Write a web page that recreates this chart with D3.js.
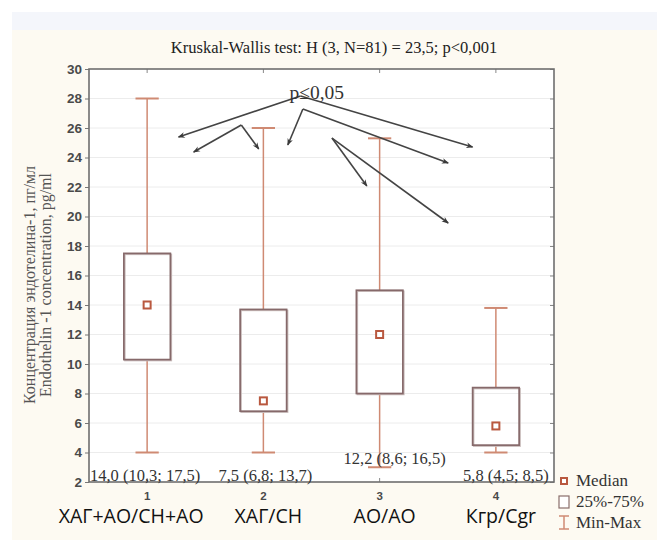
<!DOCTYPE html>
<html>
<head>
<meta charset="utf-8">
<script src="https://cdn.jsdelivr.net/npm/d3@7"></script>
<style>
  body { margin: 0; background: #fff; }
  svg { display: block; }
</style>
</head>
<body>
<svg id="chart" width="657" height="548"></svg>
<script>
// groups and box statistics
const groups = ["1", "2", "3", "4"];
const groupNames = ["ХАГ+АО/СН+АО", "ХАГ/СН", "АО/АО", "Кгр/Cgr"];
const minVals = [4.0, 4.0, 3.0, 4.0];
const q1Vals = [10.3, 6.8, 8.0, 4.5];
const medVals = [14.0, 7.5, 12.0, 5.8];
const q3Vals = [17.5, 13.7, 15.0, 8.4];
const maxVals = [28.0, 26.0, 25.3, 13.8];
const statLabels = ["14,0 (10,3; 17,5)", "7,5 (6,8; 13,7)", "12,2 (8,6; 16,5)", "5,8 (4,5; 8,5)"];
const statLabelY = [2.1, 2.1, 3.2, 2.1];
const yTicks = [2, 4, 6, 8, 10, 12, 14, 16, 18, 20, 22, 24, 26, 28, 30];

// significance arrows, [group position, value] pairs
const arrows = [
  [[2.32, 28.17], [1.27, 25.39]],
  [[2.32, 28.17], [3.80, 24.71]],
  [[1.81, 26.20], [1.40, 24.37]],
  [[1.81, 26.20], [1.96, 24.58]],
  [[2.34, 27.29], [2.21, 24.85]],
  [[2.34, 27.29], [3.59, 23.63]],
  [[2.59, 25.32], [2.89, 22.07]],
  [[2.59, 25.32], [3.59, 19.56]]
];

const svg = d3.select("#chart");
const margin = {left: 89, top: 69, right: 103, bottom: 66};
const W = 657, H = 548;
const pw = W - margin.left - margin.right;
const ph = H - margin.top - margin.bottom;
const serif = "Liberation Serif, Times New Roman, serif";

// page backgrounds
svg.append("rect").attr("x", 12).attr("y", 12).attr("width", W - 12).attr("height", 18).attr("fill", "#f4f6fb");
svg.append("rect").attr("x", 12).attr("y", 30).attr("width", W - 12).attr("height", 510).attr("fill", "#fdfaf2");

const x = d3.scaleBand().domain(groups).range([0, pw]).padding(0);
const xPos = d3.scaleLinear().domain([1, 4])
  .range([x("1") + x.bandwidth() / 2, x("4") + x.bandwidth() / 2]);
const y = d3.scaleLinear().domain([2, 30]).range([ph, 0]);

const g = svg.append("g").attr("transform", "translate(" + margin.left + "," + margin.top + ")");

g.append("rect").attr("width", pw).attr("height", ph).attr("fill", "#fff");

// grid
g.append("g").selectAll("line")
  .data(yTicks.filter(d => d > 2 && d < 30))
  .enter().append("line")
  .attr("x1", 0).attr("x2", pw)
  .attr("y1", d => y(d)).attr("y2", d => y(d))
  .attr("stroke", "#ececec").attr("stroke-width", 1);

// axes
const axisLeft = g.append("g").call(d3.axisLeft(y).tickValues(yTicks).tickSize(4).tickPadding(3));
axisLeft.select(".domain").remove();
axisLeft.selectAll("line").attr("stroke", "#777");
axisLeft.selectAll("text")
  .attr("font-family", "Liberation Sans, Arial, sans-serif")
  .attr("font-weight", "bold").attr("font-size", 13.5).attr("fill", "#4a4a4a");

const axisRight = g.append("g").attr("transform", "translate(" + pw + ",0)")
  .call(d3.axisRight(y).tickValues(yTicks).tickSize(-4).tickFormat(""));
axisRight.select(".domain").remove();
axisRight.selectAll("line").attr("stroke", "#888");

const axisTop = g.append("g").call(d3.axisTop(x).tickSize(-4).tickFormat(""));
axisTop.select(".domain").remove();
axisTop.selectAll("line").attr("stroke", "#888");

const axisBottom = g.append("g").attr("transform", "translate(0," + ph + ")")
  .call(d3.axisBottom(x).tickSize(-4).tickPadding(10));
axisBottom.select(".domain").remove();
axisBottom.selectAll("line").attr("stroke", "#888");
axisBottom.selectAll("text")
  .attr("font-family", "Liberation Sans, Arial, sans-serif")
  .attr("font-weight", "bold").attr("font-size", 11.5).attr("fill", "#4a4a4a");

g.append("rect").attr("width", pw).attr("height", ph)
  .attr("fill", "none").attr("stroke", "#6f6f6f").attr("stroke-width", 1.6);

// boxes
const data = groups.map((k, i) => ({
  key: k, min: minVals[i], q1: q1Vals[i], med: medVals[i], q3: q3Vals[i], max: maxVals[i]
}));
const bw = x.bandwidth() * 0.4;
const whisk = "#cf8a73";

const box = g.append("g").selectAll("g.box")
  .data(data).enter().append("g").attr("class", "box")
  .attr("transform", d => "translate(" + (x(d.key) + x.bandwidth() / 2) + ",0)");

box.append("line").attr("x1", 0).attr("x2", 0)
  .attr("y1", d => y(d.max)).attr("y2", d => y(d.q3))
  .attr("stroke", whisk).attr("stroke-width", 1.5);
box.append("line").attr("x1", 0).attr("x2", 0)
  .attr("y1", d => y(d.q1)).attr("y2", d => y(d.min))
  .attr("stroke", whisk).attr("stroke-width", 1.5);
box.append("line").attr("x1", -bw / 4).attr("x2", bw / 4)
  .attr("y1", d => y(d.max)).attr("y2", d => y(d.max))
  .attr("stroke", whisk).attr("stroke-width", 2);
box.append("line").attr("x1", -bw / 4).attr("x2", bw / 4)
  .attr("y1", d => y(d.min)).attr("y2", d => y(d.min))
  .attr("stroke", whisk).attr("stroke-width", 2);

// shadow then box
box.append("rect")
  .attr("x", -bw / 2 + 1).attr("y", d => y(d.q3) + 1)
  .attr("width", bw).attr("height", d => y(d.q1) - y(d.q3))
  .attr("fill", "none").attr("stroke", "#c9bcbb").attr("stroke-width", 1.5);
box.append("rect")
  .attr("x", -bw / 2).attr("y", d => y(d.q3))
  .attr("width", bw).attr("height", d => y(d.q1) - y(d.q3))
  .attr("fill", "none").attr("stroke", "#86696a").attr("stroke-width", 1.7);

box.append("rect")
  .attr("x", -3.5).attr("y", d => y(d.med) - 3.5)
  .attr("width", 7).attr("height", 7)
  .attr("fill", "#fff").attr("stroke", "#b9583f").attr("stroke-width", 2);

// stat labels inside the plot
const labelDx = [-2, 2, 15, 10];
g.append("g").selectAll("text")
  .data(statLabels).enter().append("text")
  .attr("x", (d, i) => x(groups[i]) + x.bandwidth() / 2 + labelDx[i])
  .attr("y", (d, i) => y(statLabelY[i]))
  .attr("text-anchor", "middle")
  .attr("font-family", serif)
  .attr("font-size", 16.5).attr("fill", "#333")
  .text(d => d);

// arrows
const defs = svg.append("defs");
defs.append("marker").attr("id", "ah")
  .attr("viewBox", "0 0 10 10").attr("refX", 9).attr("refY", 5)
  .attr("markerWidth", 10).attr("markerHeight", 7).attr("orient", "auto")
  .attr("markerUnits", "userSpaceOnUse")
  .append("path").attr("d", "M0,1 L10,5 L0,9 L3,5 Z").attr("fill", "#3a3a3a");

g.append("g").selectAll("line.arrow")
  .data(arrows).enter().append("line").attr("class", "arrow")
  .attr("x1", d => xPos(d[0][0])).attr("y1", d => y(d[0][1]))
  .attr("x2", d => xPos(d[1][0])).attr("y2", d => y(d[1][1]))
  .attr("stroke", "#444").attr("stroke-width", 1.6)
  .attr("marker-end", "url(#ah)");

g.append("text")
  .attr("x", xPos(2.46)).attr("y", y(28.0))
  .attr("text-anchor", "middle")
  .attr("font-family", serif)
  .attr("font-size", 19.5).attr("fill", "#333")
  .text("p≤0,05");

// group names
g.append("g").selectAll("text")
  .data(groupNames).enter().append("text")
  .attr("x", (d, i) => x(groups[i]) + x.bandwidth() / 2 + (i === 0 ? -16 : 5))
  .attr("y", ph + 41)
  .attr("text-anchor", "middle")
  .attr("font-family", "Open Sans, sans-serif")
  .attr("font-size", 19.5).attr("fill", "#111")
  .text(d => d);

// title
svg.append("text")
  .attr("x", 334).attr("y", 53)
  .attr("text-anchor", "middle")
  .attr("font-family", serif)
  .attr("font-size", 16.5).attr("fill", "#222")
  .text("Kruskal-Wallis test: H (3, N=81) = 23,5; p<0,001");

// y label
const yl = svg.append("text")
  .attr("transform", "translate(35,285) rotate(-90)")
  .attr("text-anchor", "middle")
  .attr("font-family", serif)
  .attr("font-size", 16).attr("fill", "#555");
yl.append("tspan").attr("x", 0).attr("y", 0).text("Концентрация эндотелина-1, пг/мл");
yl.append("tspan").attr("x", 0).attr("y", 16).text("Endothelin -1 concentration, pg/ml");

// legend
const lg = svg.append("g").attr("transform", "translate(564,0)");
lg.append("rect").attr("x", -3).attr("y", 478).attr("width", 6).attr("height", 6)
  .attr("fill", "#fff").attr("stroke", "#b9583f").attr("stroke-width", 2);
lg.append("rect").attr("x", -5).attr("y", 496).attr("width", 10).attr("height", 12)
  .attr("fill", "#fff").attr("stroke", "#8a6e6b").attr("stroke-width", 1.2);
lg.append("line").attr("x1", 0).attr("x2", 0).attr("y1", 516).attr("y2", 529).attr("stroke", whisk).attr("stroke-width", 1.5);
lg.append("line").attr("x1", -5).attr("x2", 5).attr("y1", 516).attr("y2", 516).attr("stroke", whisk).attr("stroke-width", 1.5);
lg.append("line").attr("x1", -5).attr("x2", 5).attr("y1", 529).attr("y2", 529).attr("stroke", whisk).attr("stroke-width", 1.5);
lg.selectAll("text.leg")
  .data(["Median", "25%-75%", "Min-Max"]).enter().append("text").attr("class", "leg")
  .attr("x", 12).attr("y", (d, i) => 486 + i * 21)
  .attr("font-family", serif)
  .attr("font-size", 17).attr("fill", "#333")
  .text(d => d);
</script>
</body>
</html>
